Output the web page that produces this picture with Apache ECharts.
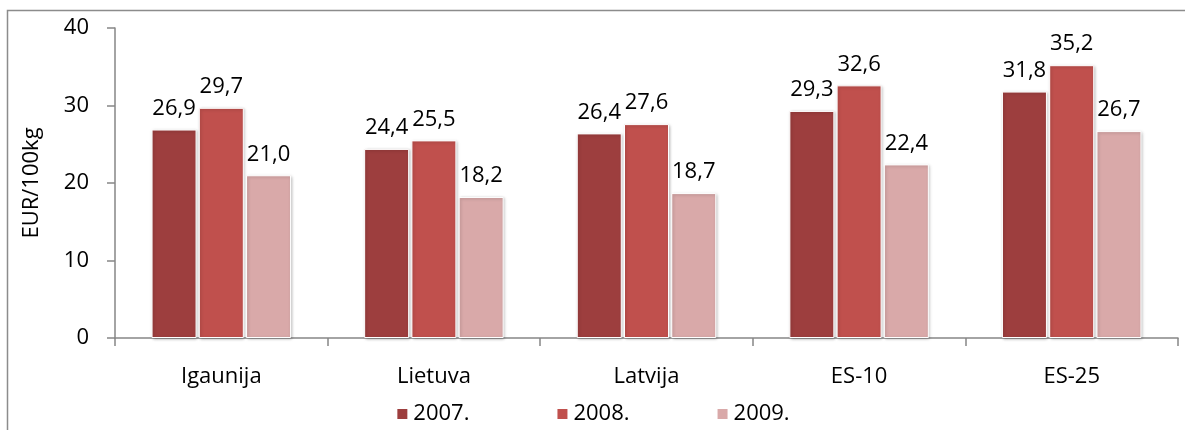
<!DOCTYPE html>
<html>
<head>
<meta charset="utf-8">
<script src="https://cdn.jsdelivr.net/npm/echarts@6/dist/echarts.min.js"></script>
<style>
  html, body { margin: 0; padding: 0; background: #fff; }
  #chart { width: 1185px; height: 430px; }
</style>
</head>
<body>
<div id="chart"></div>
<script>
const categories = ['Igaunija', 'Lietuva', 'Latvija', 'ES-10', 'ES-25']
const years = ['2007.', '2008.', '2009.']
const values2007 = [26.9, 24.4, 26.4, 29.3, 31.8]
const values2008 = [29.7, 25.5, 27.6, 32.6, 35.2]
const values2009 = [21.0, 18.2, 18.7, 22.4, 26.7]
const yTicks = [0, 10, 20, 30, 40]

// kolory jak w oryginale
const colors = ['#9d3e3e', '#c0504d', '#d9a9a9']
const fontFamily = '"Open Sans", "Noto Sans", sans-serif'

const chart = echarts.init(document.getElementById('chart'))

const makeSeries = (name, data, index) => ({
  name: name,
  type: 'bar',
  data: data,
  barWidth: 45,
  barGap: '5%',
  itemStyle: {
    color: colors[index],
    borderColor: '#fff',
    borderWidth: 1,
    shadowBlur: 3,
    shadowColor: 'rgba(0,0,0,0.25)',
    shadowOffsetX: 1,
    shadowOffsetY: 1
  },
  label: {
    show: true,
    position: 'top',
    distance: 10,
    color: '#000',
    fontFamily: fontFamily,
    fontSize: 22,
    formatter: p => p.value.toFixed(1).replace('.', ',')
  }
})

const option = {
  animation: false,
  textStyle: { fontFamily: fontFamily },
  graphic: [{
    type: 'rect',
    shape: { x: 7.5, y: 10.5, width: 1300, height: 600 },
    style: { fill: 'none', stroke: '#8c8c8c', lineWidth: 1.5 },
    silent: true
  }],
  legend: {
    data: years,
    bottom: 0,
    left: 'center',
    icon: 'rect',
    itemWidth: 12,
    itemHeight: 12,
    itemGap: 86,
    textStyle: { fontSize: 22, color: '#000', fontFamily: fontFamily }
  },
  grid: {
    left: 115,
    right: 7,
    top: 28,
    bottom: 92,
    containLabel: false
  },
  xAxis: {
    type: 'category',
    data: categories,
    axisLine: { lineStyle: { color: '#868686', width: 1.5 } },
    axisTick: { show: true, length: 8, lineStyle: { color: '#868686', width: 1.5 } },
    axisLabel: { color: '#000', fontSize: 22, margin: 28, fontFamily: fontFamily }
  },
  yAxis: {
    type: 'value',
    min: yTicks[0],
    max: yTicks[yTicks.length - 1],
    interval: 10,
    name: 'EUR/100kg',
    nameLocation: 'center',
    nameGap: 72,
    nameTextStyle: { color: '#000', fontSize: 22, fontFamily: fontFamily },
    axisLine: { show: true, lineStyle: { color: '#868686', width: 1.5 } },
    axisTick: { show: true, length: 8, lineStyle: { color: '#868686', width: 1.5 } },
    axisLabel: { color: '#000', fontSize: 22, margin: 26, fontFamily: fontFamily },
    splitLine: { show: false }
  },
  series: [
    makeSeries(years[0], values2007, 0),
    makeSeries(years[1], values2008, 1),
    makeSeries(years[2], values2009, 2)
  ]
}

chart.setOption(option)
</script>
</body>
</html>
